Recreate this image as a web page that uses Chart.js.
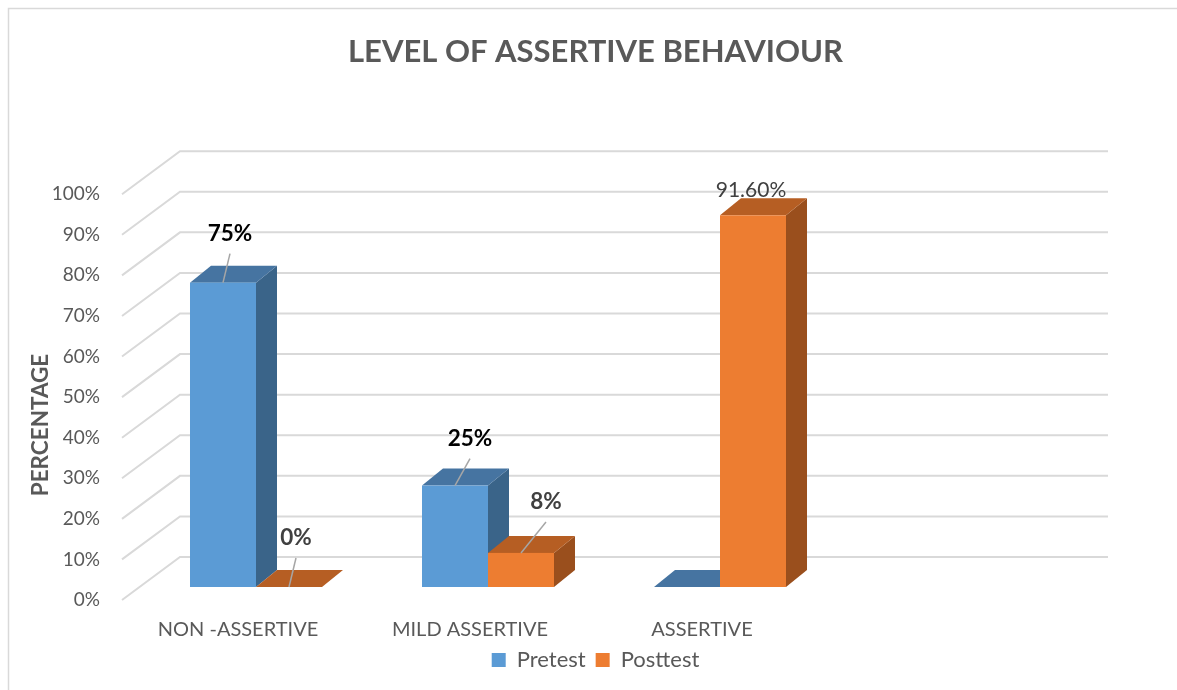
<!DOCTYPE html>
<html><head><meta charset="utf-8">
<script src="https://cdn.jsdelivr.net/npm/chart.js@4.4.1/dist/chart.umd.min.js"></script>
<style>html,body{margin:0;padding:0;background:#fff;}canvas{display:block;}</style>
</head><body>
<canvas id="c" width="1177" height="690"></canvas>
<script>
// ---- data ----
const categories = ["NON -ASSERTIVE", "MILD ASSERTIVE", "ASSERTIVE", ""];
const seriesNames = ["Pretest", "Posttest"];
const pretest = [75, 25, 0, null];
const posttest = [0, 8.4, 91.6, null];
const pretestLabels = ["75%", "25%", "", ""];
const posttestLabels = ["0%", "8%", "91.60%", ""];
const yMin = 0, yMax = 100, yStep = 10;
const chartTitle = "LEVEL OF ASSERTIVE BEHAVIOUR";
const yAxisTitle = "PERCENTAGE";

// ---- style ----
const FONT = "Lato, 'Open Sans', sans-serif";
const TEXT = "#595959";
const GRID = "#d9d9d9";
const WALL = {dx: 58, dy: -43};      // front-to-back offset of the walls
const BAR_POS = {dx: 18, dy: -13};   // bar front plane offset
const BAR_DEPTH = {dx: 21, dy: -17}; // bar depth
const faces = [
  {front: "#5B9BD5", top: "#4674A1", side: "#3A6489"},
  {front: "#ED7D31", top: "#B65E23", side: "#9A4F1D"}
];
const labelStyle = [
  [{dx: 7, dy: -49, leader: true, color: "#000000", bold: true},
   {dx: 15, dy: -47, leader: true, color: "#000000", bold: true},
   null, null],
  [{dx: 7, dy: -49, leader: true, color: "#404040", bold: true},
   {dx: 25, dy: -51, leader: true, color: "#404040", bold: true},
   {dx: -2, dy: -25, leader: false, color: "#404040", bold: false},
   null]
];
const labelTexts = [pretestLabels, posttestLabels];

const threeD = {
  id: "threeD",
  beforeDraw(chart) {
    const ctx = chart.ctx;
    ctx.save();
    ctx.strokeStyle = "#d9d9d9";
    ctx.lineWidth = 1.5;
    ctx.beginPath();
    ctx.moveTo(8.5, 690); ctx.lineTo(8.5, 8.5); ctx.lineTo(1177, 8.5);
    ctx.stroke();
    ctx.restore();
  },
  beforeDatasetsDraw(chart) {
    const ctx = chart.ctx, y = chart.scales.y, a = chart.chartArea;
    ctx.save();
    ctx.strokeStyle = GRID;
    ctx.lineWidth = 2;
    y.ticks.forEach(t => {
      const py = y.getPixelForValue(t.value);
      ctx.beginPath();
      ctx.moveTo(a.left, py);
      ctx.lineTo(a.left + WALL.dx, py + WALL.dy);
      ctx.lineTo(a.right + WALL.dx, py + WALL.dy);
      ctx.stroke();
    });
    // axis title
    ctx.fillStyle = TEXT;
    ctx.font = "bold 22.5px " + FONT;
    ctx.textAlign = "center";
    ctx.textBaseline = "middle";
    ctx.translate(41, 425);
    ctx.rotate(-Math.PI / 2);
    ctx.fillText(yAxisTitle, 0, 0);
    ctx.restore();
  },
  beforeDatasetDraw() { return false; },
  afterDatasetsDraw(chart) {
    const ctx = chart.ctx;
    ctx.save();
    const bars = [];
    chart.data.datasets.forEach((ds, di) => {
      const meta = chart.getDatasetMeta(di);
      meta.data.forEach((el, i) => {
        if (ds.data[i] === null) return;
        const p = el.getProps(["x", "y", "base", "width"], true);
        const x0 = p.x - p.width / 2 + BAR_POS.dx, x1 = p.x + p.width / 2 + BAR_POS.dx;
        const yt = p.y + BAR_POS.dy, yb = p.base + BAR_POS.dy;
        const f = faces[di];
        const D = BAR_DEPTH;
        ctx.fillStyle = f.side;
        ctx.beginPath();
        ctx.moveTo(x1, yt); ctx.lineTo(x1 + D.dx, yt + D.dy);
        ctx.lineTo(x1 + D.dx, yb + D.dy); ctx.lineTo(x1, yb); ctx.closePath(); ctx.fill();
        ctx.fillStyle = f.top;
        ctx.beginPath();
        ctx.moveTo(x0, yt); ctx.lineTo(x0 + D.dx, yt + D.dy);
        ctx.lineTo(x1 + D.dx, yt + D.dy); ctx.lineTo(x1, yt); ctx.closePath(); ctx.fill();
        ctx.fillStyle = f.front;
        ctx.fillRect(x0, yt, x1 - x0, yb - yt);
        bars.push({di, i, cx: (x0 + x1) / 2, top: yt});
      });
    });
    bars.forEach(b => {
      const st = labelStyle[b.di][b.i];
      const txt = labelTexts[b.di][b.i];
      if (!st || !txt) return;
      const lx = b.cx + st.dx, ly = b.top + st.dy;
      if (st.leader) {
        ctx.strokeStyle = "#a6a6a6";
        ctx.lineWidth = 1.5;
        ctx.beginPath();
        ctx.moveTo(b.cx, b.top);
        ctx.lineTo(lx, ly + 20);
        ctx.stroke();
      }
      ctx.fillStyle = st.color;
      ctx.font = (st.bold ? "bold 22.5px " : "21px ") + FONT;
      ctx.textAlign = "center";
      ctx.textBaseline = "middle";
      ctx.fillText(txt, lx, ly);
    });
    ctx.restore();
  }
};

function build() {
  new Chart(document.getElementById("c"), {
    type: "bar",
    data: {
      labels: categories,
      datasets: [
        {label: seriesNames[0], data: pretest, backgroundColor: faces[0].front},
        {label: seriesNames[1], data: posttest, backgroundColor: faces[1].front}
      ]
    },
    options: {
      responsive: false,
      animation: false,
      devicePixelRatio: 1,
      layout: {padding: {left: 14, right: 0, top: 0, bottom: 9}},
      categoryPercentage: 0.569,
      barPercentage: 1,
      plugins: {
        title: {
          display: true, text: chartTitle, color: TEXT,
          font: {family: FONT, size: 31, weight: "bold"},
          padding: {top: 33, bottom: 124}
        },
        legend: {
          position: "bottom",
          labels: {color: TEXT, font: {family: FONT, size: 22}, boxWidth: 14, boxHeight: 14, padding: 10}
        },
        tooltip: {enabled: false}
      },
      scales: {
        x: {
          grid: {display: false, drawTicks: false},
          border: {display: false},
          ticks: {color: TEXT, font: {family: FONT, size: 20}, padding: 18},
          afterFit(s) { s.height = 39; }
        },
        y: {
          min: yMin, max: yMax,
          grid: {display: false, drawTicks: false},
          border: {display: false},
          ticks: {stepSize: yStep, color: TEXT, font: {family: FONT, size: 19}, padding: 22,
                  callback: v => v + "%"},
          afterFit(s) { s.width = 108; }
        },
        yRight: {
          position: "right", display: true,
          grid: {display: false, drawTicks: false},
          border: {display: false},
          ticks: {display: false},
          afterFit(s) { s.width = 127; }
        }
      }
    },
    plugins: [threeD]
  });
}
if (document.fonts && document.fonts.load) {
  Promise.all([document.fonts.load("21px Lato"), document.fonts.load("bold 21px Lato")]).then(build, build);
} else build();
</script>
</body></html>
